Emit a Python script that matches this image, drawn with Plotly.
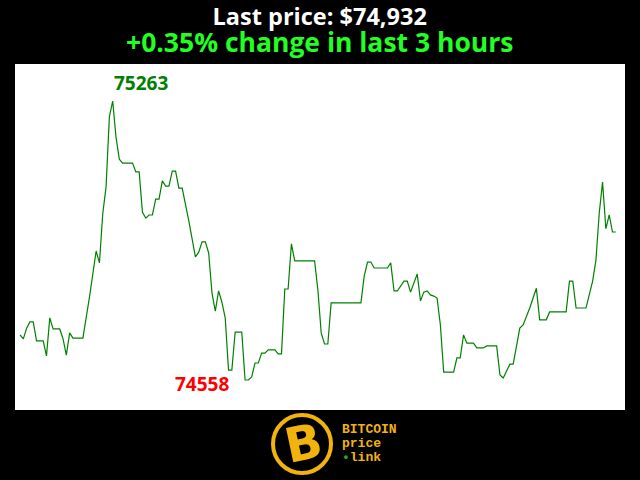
import plotly.graph_objects as go

# minutes into the 3-hour window and BTC price (USD) at each vertex
minutes = [0, 1, 2, 3, 4, 5, 7, 8, 9, 10, 12, 13, 14, 15, 16, 19, 21, 23, 24, 25,
           26, 27, 28, 29, 30, 31, 34, 35, 36, 37, 38, 39, 40, 41, 42, 43, 44, 45, 46, 47,
           48, 49, 51, 53, 54, 55, 56, 57, 58, 59, 60, 61, 62, 63, 64, 65, 67, 68, 69, 70,
           71, 72, 73, 74, 75, 77, 78, 79, 80, 81, 82, 83, 89, 90, 91, 92, 93, 94, 103, 104,
           105, 106, 107, 111, 112, 113, 114, 116, 117, 118, 120, 121, 122, 123, 124, 125, 126, 127, 128, 131,
           132, 133, 134, 135, 137, 138, 140, 141, 144, 145, 146, 148, 149, 151, 152, 154, 156, 157, 159, 160,
           165, 166, 167, 168, 171, 173, 174, 175, 176, 177, 178, 179, 180]
prices = [74672, 74662, 74689, 74705, 74705, 74657, 74657, 74619, 74715, 74687, 74687, 74662, 74621, 74677, 74664, 74664, 74768, 74884, 74854, 74978,
          75046, 75223, 75263, 75172, 75116, 75106, 75106, 75084, 75084, 74982, 74967, 74975, 74975, 75015, 75015, 75061, 75048, 75048, 75086, 75086,
          75043, 75043, 74960, 74869, 74881, 74907, 74907, 74879, 74778, 74732, 74783, 74755, 74715, 74583, 74583, 74679, 74679, 74558, 74558, 74566,
          74601, 74601, 74626, 74626, 74634, 74634, 74624, 74624, 74788, 74788, 74902, 74859, 74859, 74785, 74677, 74649, 74649, 74753, 74753, 74821,
          74856, 74856, 74841, 74841, 74854, 74783, 74783, 74808, 74808, 74780, 74826, 74758, 74780, 74783, 74773, 74770, 74765, 74697, 74578, 74578,
          74614, 74614, 74672, 74651, 74651, 74639, 74639, 74644, 74644, 74571, 74563, 74598, 74598, 74689, 74697, 74740, 74790, 74710, 74710, 74730,
          74730, 74808, 74808, 74740, 74740, 74808, 74861, 74980, 75058, 74940, 74975, 74932, 74932]

last_price = prices[-1]
change_pct = (prices[-1] - prices[0]) / prices[0] * 100
hi = max(prices)
lo = min(prices)
hi_t = minutes[prices.index(hi)]
lo_t = minutes[prices.index(lo)]

W, H = 640, 480
L, R, T, B = 15, 15, 64, 70
pw, ph = W - L - R, H - T - B


def px(x):
    return (x - L) / pw


def py(y):
    return (H - B - y) / ph


fig = go.Figure()
fig.add_trace(go.Scatter(x=minutes, y=prices, mode="lines",
                         line=dict(color="#008000", width=1.2),
                         hoverinfo="skip", showlegend=False))

font = "Open Sans, DejaVu Sans, sans-serif"
gold = "#f2b40c"
mono = "Liberation Mono, monospace"


def pa(x, y, text, size, color, family=font, xanchor="center", **kw):
    return dict(x=px(x), y=py(y), xref="paper", yref="paper", text=text, showarrow=False,
                xanchor=xanchor, yanchor="middle", font=dict(family=family, size=size, color=color), **kw)


title_text = (f"<span style='font-size:23.5px;color:white'><b>Last price: ${last_price:,}</b></span><br>"
              f"<span style='font-size:26.5px;color:#22ff22'><b>+{change_pct:.2f}% change in last 3 hours</b></span>")

ann = [
    pa(319, 30, title_text, 21, "white", borderpad=0),
    dict(x=hi_t, y=hi, xref="x", yref="y", text=f"<b>{hi}</b>", showarrow=False,
         xanchor="left", yanchor="middle", xshift=-1, yshift=18,
         font=dict(family=font, size=19, color="#008000")),
    dict(x=lo_t, y=lo, xref="x", yref="y", text=f"<b>{lo}</b>", showarrow=False,
         xanchor="right", yanchor="middle", xshift=-14, yshift=-4,
         font=dict(family=font, size=19, color="#ff0000")),
    # logo
    pa(303, 443, "<b>B</b>", 48, gold, family="DejaVu Sans, sans-serif", textangle=-12),
    pa(340, 429, "<b>BITCOIN</b>", 13, gold, family=mono, xanchor="left"),
    pa(340, 443, "<b>price</b>", 13, gold, family=mono, xanchor="left"),
    pa(340, 457, "<b><span style='color:#22aa22'>•</span>link</b>", 13, gold, family=mono, xanchor="left"),
]

shapes = [
    dict(type="circle", xref="paper", yref="paper",
         x0=px(273), x1=px(331), y0=py(473), y1=py(415),
         line=dict(color=gold, width=4), fillcolor="black", layer="below"),
]

fig.update_layout(
    width=W, height=H,
    margin=dict(l=L, r=R, t=T, b=B),
    paper_bgcolor="black", plot_bgcolor="white",
    xaxis=dict(range=[-1.51, 182.78], visible=False, showgrid=False, zeroline=False),
    yaxis=dict(range=[74482.2, 75356.5], visible=False, showgrid=False, zeroline=False),
    annotations=ann, shapes=shapes, showlegend=False,
)

fig.write_html("out.html", config={"displayModeBar": False},
               post_script="document.body.style.margin='0';document.body.style.overflow='hidden';")
